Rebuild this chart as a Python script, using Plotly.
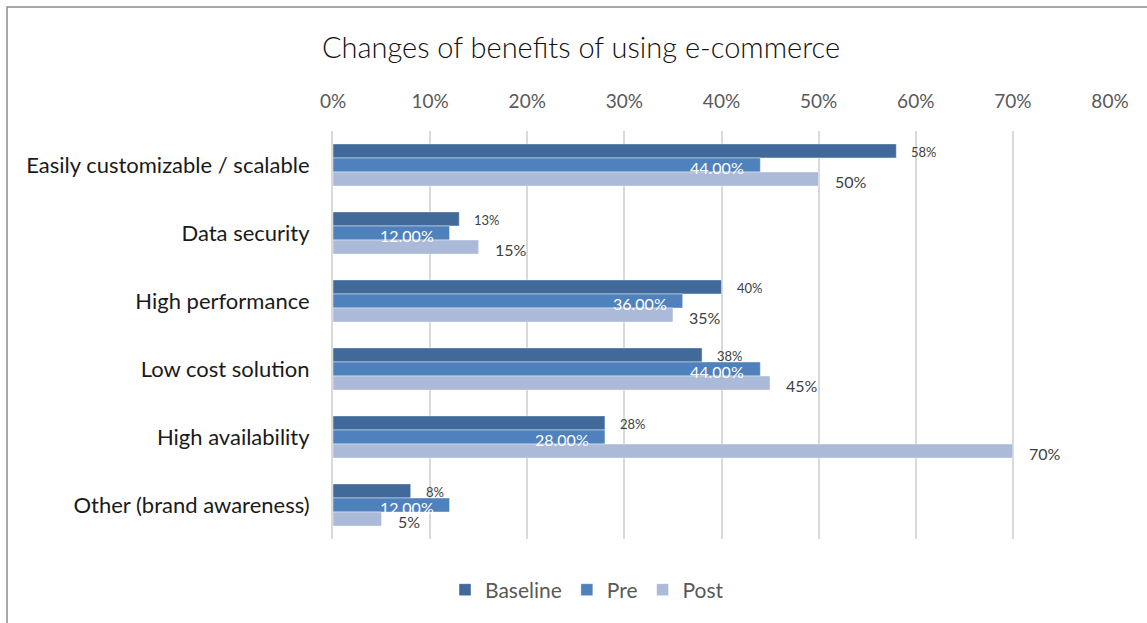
import plotly.graph_objects as go

categories = [
    "Easily customizable / scalable",
    "Data security",
    "High performance",
    "Low cost solution",
    "High availability",
    "Other (brand awareness)",
]
baseline = [58, 13, 40, 38, 28, 8]
pre = [44, 12, 36, 44, 28, 12]
post = [50, 15, 35, 45, 70, 5]
tick_values = [0, 10, 20, 30, 40, 50, 60, 70, 80]
tick_labels = ["0%", "10%", "20%", "30%", "40%", "50%", "60%", "70%", "80%"]

c_base = "#416A9B"
c_pre = "#4F81BD"
c_post = "#AABAD8"
edge = dict(color="rgba(255,255,255,0.55)", width=0.8)

fig = go.Figure()
fig.add_trace(go.Bar(name="Baseline", y=categories, x=baseline, orientation="h",
                     marker=dict(color=c_base, line=edge)))
fig.add_trace(go.Bar(name="Pre", y=categories, x=pre, orientation="h",
                     marker=dict(color=c_pre, line=edge)))
fig.add_trace(go.Bar(name="Post", y=categories, x=post, orientation="h",
                     marker=dict(color=c_post, line=edge)))

label_font = "Lato, 'Open Sans', sans-serif"
annotations = []
for cat, b, p, q in zip(categories, baseline, pre, post):
    annotations.append(dict(x=b, y=cat, text=f"{b}%", showarrow=False,
                            xanchor="left", xshift=13, yshift=13,
                            font=dict(family=label_font, size=13, color="#404040")))
    annotations.append(dict(x=p, y=cat, text=f"{p:.2f}%", showarrow=False,
                            xanchor="right", xshift=-14, yshift=-2,
                            font=dict(family=label_font, size=16, color="#FFFFFF")))
    annotations.append(dict(x=q, y=cat, text=f"{q}%", showarrow=False,
                            xanchor="left", xshift=14, yshift=-16,
                            font=dict(family=label_font, size=16, color="#404040")))

# Outer frame around the whole chart, in paper units relative to the plot area
L, R, T, B = 333, 1110, 131, 539
pw, ph = R - L, B - T
def px_x(v):
    return (v - L) / pw
def px_y(v):
    return (B - v) / ph

fig.update_layout(
    width=1147, height=623,
    margin=dict(l=333, r=1147 - 1110, t=131, b=623 - 539),
    paper_bgcolor="white", plot_bgcolor="white",
    barmode="group", bargap=0.38, bargroupgap=0,
    title=dict(text="Changes of benefits of using e-commerce",
               xref="container", yref="container", x=581 / 1147, y=1 - 48 / 623,
               xanchor="center", yanchor="middle",
               font=dict(family=label_font, size=29, color="#111111", weight=300)),
    xaxis=dict(side="top", range=[0, 80], tickvals=tick_values, ticktext=tick_labels,
               showgrid=True, gridcolor="#D9D9D9", gridwidth=2, zeroline=False,
               showline=False, ticks="", ticklabelstandoff=18,
               tickfont=dict(family=label_font, size=19, color="#595959")),
    yaxis=dict(autorange="reversed", showgrid=False, zeroline=False,
               showline=True, linecolor="#D9D9D9", linewidth=2,
               ticks="", ticklabelstandoff=17,
               tickfont=dict(family=label_font, size=22, color="#1A1A1A")),
    legend=dict(orientation="h", xref="container", yref="container",
                x=587 / 1147, y=1 - 590 / 623, xanchor="center", yanchor="middle",
                font=dict(family=label_font, size=21, color="#595959"),
                itemwidth=30, traceorder="normal"),
    annotations=annotations,
    shapes=[dict(type="rect", xref="paper", yref="paper",
                 x0=px_x(7), x1=px_x(1160), y0=px_y(640), y1=px_y(7),
                 line=dict(color="#8C8C8C", width=1.5), fillcolor="rgba(0,0,0,0)",
                 layer="above")],
    showlegend=True,
)

fig.write_html("out.html")
